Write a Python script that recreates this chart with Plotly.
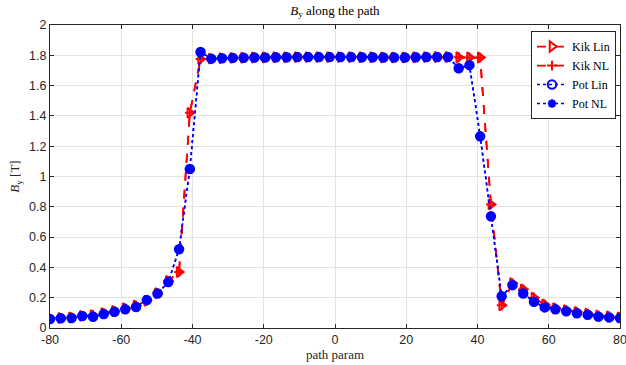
import plotly.graph_objects as go

path_param = [-80.00, -76.98, -73.96, -70.94, -67.92, -64.91, -61.89, -58.87, -55.85, -52.83,
              -49.81, -46.79, -43.77, -40.75, -37.74, -34.72, -31.70, -28.68, -25.66, -22.64,
              -19.62, -16.60, -13.58, -10.57, -7.55, -4.53, -1.51,
              1.51, 4.53, 7.55, 10.57, 13.58, 16.60, 19.62, 22.64, 25.66, 28.68,
              31.70, 34.72, 37.74, 40.75, 43.77, 46.79, 49.81, 52.83, 55.85, 58.87,
              61.89, 64.91, 67.92, 70.94, 73.96, 76.98, 80.00]

kik_lin = [0.062, 0.066, 0.070, 0.080, 0.084, 0.098, 0.112, 0.130, 0.148, 0.180,
           0.230, 0.310, 0.370, 1.420, 1.775, 1.778, 1.781, 1.783, 1.784, 1.785,
           1.786, 1.787, 1.787, 1.788, 1.788, 1.788, 1.788,
           1.788, 1.788, 1.787, 1.787, 1.786, 1.786, 1.786, 1.787, 1.788, 1.789,
           1.789, 1.787, 1.786, 1.785, 0.816, 0.150, 0.295, 0.255, 0.200, 0.155,
           0.130, 0.118, 0.105, 0.094, 0.082, 0.076, 0.070]

kik_nl = [0.062, 0.066, 0.070, 0.080, 0.084, 0.098, 0.112, 0.130, 0.148, 0.180,
          0.230, 0.310, 0.370, 1.420, 1.775, 1.778, 1.781, 1.783, 1.784, 1.785,
          1.786, 1.787, 1.787, 1.788, 1.788, 1.788, 1.788,
          1.788, 1.788, 1.787, 1.787, 1.786, 1.786, 1.786, 1.787, 1.788, 1.789,
          1.789, 1.787, 1.786, 1.785, 0.816, 0.150, 0.295, 0.255, 0.200, 0.155,
          0.130, 0.118, 0.105, 0.094, 0.082, 0.076, 0.070]

pot_lin = [0.059, 0.064, 0.066, 0.079, 0.074, 0.092, 0.107, 0.123, 0.138, 0.184,
           0.228, 0.303, 0.520, 1.050, 1.822, 1.778, 1.781, 1.783, 1.784, 1.785,
           1.786, 1.787, 1.787, 1.788, 1.788, 1.788, 1.788,
           1.788, 1.788, 1.787, 1.787, 1.786, 1.786, 1.786, 1.787, 1.788, 1.789,
           1.789, 1.715, 1.735, 1.265, 0.737, 0.210, 0.283, 0.228, 0.173, 0.136,
           0.123, 0.110, 0.097, 0.088, 0.075, 0.070, 0.066]

pot_nl = [0.059, 0.064, 0.066, 0.079, 0.074, 0.092, 0.107, 0.123, 0.138, 0.184,
          0.228, 0.303, 0.520, 1.050, 1.822, 1.778, 1.781, 1.783, 1.784, 1.785,
          1.786, 1.787, 1.787, 1.788, 1.788, 1.788, 1.788,
          1.788, 1.788, 1.787, 1.787, 1.786, 1.786, 1.786, 1.787, 1.788, 1.789,
          1.789, 1.715, 1.735, 1.265, 0.737, 0.210, 0.283, 0.228, 0.173, 0.136,
          0.123, 0.110, 0.097, 0.088, 0.075, 0.070, 0.066]

x_ticks = [-80, -60, -40, -20, 0, 20, 40, 60, 80]
y_ticks = [0, 0.2, 0.4, 0.6, 0.8, 1, 1.2, 1.4, 1.6, 1.8, 2]
y_tick_labels = ["0", "0.2", "0.4", "0.6", "0.8", "1", "1.2", "1.4", "1.6", "1.8", "2"]

RED = "#ff0000"
BLUE = "#0000ff"
SERIF = "Liberation Serif, DejaVu Serif, serif"
SANS = "Liberation Sans, Arial, sans-serif"
AX = "#262626"

fig = go.Figure()
fig.add_trace(go.Scatter(x=path_param, y=kik_lin, name="Kik Lin", mode="lines+markers",
                         line=dict(color=RED, width=1.8, dash="dash"),
                         marker=dict(symbol="triangle-right-open", size=9, color=RED,
                                     line=dict(width=2, color=RED))))
fig.add_trace(go.Scatter(x=path_param, y=kik_nl, name="Kik NL", mode="lines+markers",
                         line=dict(color=RED, width=1.8, dash="dash"),
                         marker=dict(symbol="cross-thin-open", size=7, color=RED,
                                     line=dict(width=2, color=RED))))
fig.add_trace(go.Scatter(x=path_param, y=pot_lin, name="Pot Lin", mode="lines+markers",
                         line=dict(color=BLUE, width=1.6, dash="dot"),
                         marker=dict(symbol="circle-open", size=8.5, color=BLUE,
                                     line=dict(width=2, color=BLUE))))
fig.add_trace(go.Scatter(x=path_param, y=pot_nl, name="Pot NL", mode="lines+markers",
                         line=dict(color=BLUE, width=1.6, dash="dot"),
                         marker=dict(symbol="asterisk-open", size=7, color=BLUE,
                                     line=dict(width=2.5, color=BLUE))))

fig.update_layout(
    width=626, height=365,
    margin=dict(l=50, r=6, t=25, b=37),
    paper_bgcolor="white", plot_bgcolor="white",
    title=dict(text="<i>B</i><sub>y</sub> along the path", x=0.535, xanchor="center",
               y=0.985, yanchor="top", font=dict(family=SERIF, size=13, color="black")),
    showlegend=True,
    legend=dict(x=0.993, y=0.98, xanchor="right", yanchor="top",
                bgcolor="white", bordercolor=AX, borderwidth=1,
                font=dict(family=SERIF, size=12, color="black"),
                tracegroupgap=0, itemwidth=30),
    xaxis=dict(range=[-80, 80], tickvals=x_ticks, ticktext=[str(v) for v in x_ticks],
               automargin=False,
               showgrid=True, gridcolor="#e3e3e3", gridwidth=1,
               zeroline=False, showline=True, linecolor=AX, linewidth=1, mirror="ticks",
               ticks="inside", ticklen=4, tickcolor=AX, ticklabeloverflow="allow",
               tickfont=dict(family=SANS, size=12.5, color=AX),
               title=dict(text="path param", font=dict(family=SERIF, size=13, color=AX),
                          standoff=2)),
    yaxis=dict(range=[0, 2], tickvals=y_ticks, ticktext=y_tick_labels,
               automargin=False,
               showgrid=True, gridcolor="#e3e3e3", gridwidth=1,
               zeroline=False, showline=True, linecolor=AX, linewidth=1, mirror="ticks",
               ticks="inside", ticklen=4, tickcolor=AX,
               tickfont=dict(family=SANS, size=12.5, color=AX),
               title=dict(text="<i>B</i><sub>y</sub> [T]", font=dict(family=SERIF, size=13, color=AX),
                          standoff=6)),
)

fig.write_html("out.html", config={"displayModeBar": False},
               post_script="document.body.style.margin='0';")
